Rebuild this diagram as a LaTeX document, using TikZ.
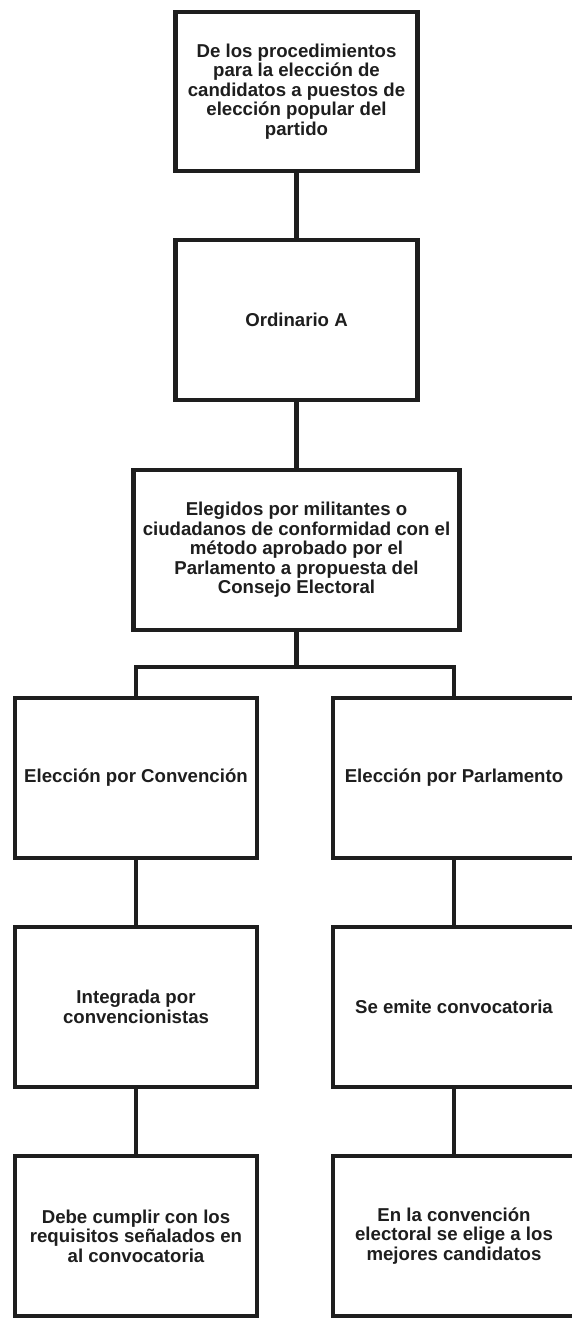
\documentclass[tikz,border=0pt]{standalone}
\usepackage{fontspec}
\setmainfont{Liberation Sans}
\usepackage{tikz}
\usetikzlibrary{positioning}
\definecolor{inkblack}{HTML}{1E1E1E}

\tikzset{
  procbox/.style={draw=inkblack, line width=2.3pt, text=inkblack, align=center,
    minimum width=4.84cm, minimum height=3.20cm, inner sep=2pt},
  link/.style={draw=inkblack, line width=2.3pt}
}

\begin{document}
\begin{tikzpicture}[font=\bfseries\fontsize{10.6}{11.1}\selectfont]
    % Page frame (keeps the margins of the sheet)
    \path[fill=white, use as bounding box] (0,0) rectangle (11.42,-26.36);

    % Main column
    \node[procbox, minimum height=3.18cm] (proc) at (5.93,-1.83)
      {De los procedimientos\\para la elección de\\candidatos a puestos de\\elección popular del\\partido};
    \node[procbox] (ordin) at (5.93,-6.40) {Ordinario A};
    \node[procbox, minimum width=6.52cm] (elegidos) at (5.93,-11.00)
      {Elegidos por militantes o\\ciudadanos de conformidad con el\\método aprobado por el\\Parlamento a propuesta del\\Consejo Electoral};

    % Left branch
    \node[procbox] (conv) at (2.72,-15.56) {Elección por Convención};
    \node[procbox] (integ) at (2.72,-20.14) {Integrada por\\convencionistas};
    \node[procbox] (debe) at (2.72,-24.72)
      {Debe cumplir con los\\requisitos señalados en\\al convocatoria};

    % Right branch
    \node[procbox] (parl) at (9.08,-15.56) {Elección por Parlamento};
    \node[procbox] (emite) at (9.08,-20.14) {Se emite convocatoria};
    \node[procbox] (mejores) at (9.08,-24.72)
      {En la convención\\electoral se elige a los\\mejores candidatos};

    % Connectors
    \coordinate[below=0.70cm of elegidos.south] (split);
    \draw[link] (proc) -- (ordin);
    \draw[link] (ordin) -- (elegidos);
    \draw[link] (elegidos.south) -- (split);
    \draw[link] (split) -| (conv.north);
    \draw[link] (split) -| (parl.north);
    \draw[link] (conv) -- (integ);
    \draw[link] (integ) -- (debe);
    \draw[link] (parl) -- (emite);
    \draw[link] (emite) -- (mejores);
\end{tikzpicture}
\end{document}
